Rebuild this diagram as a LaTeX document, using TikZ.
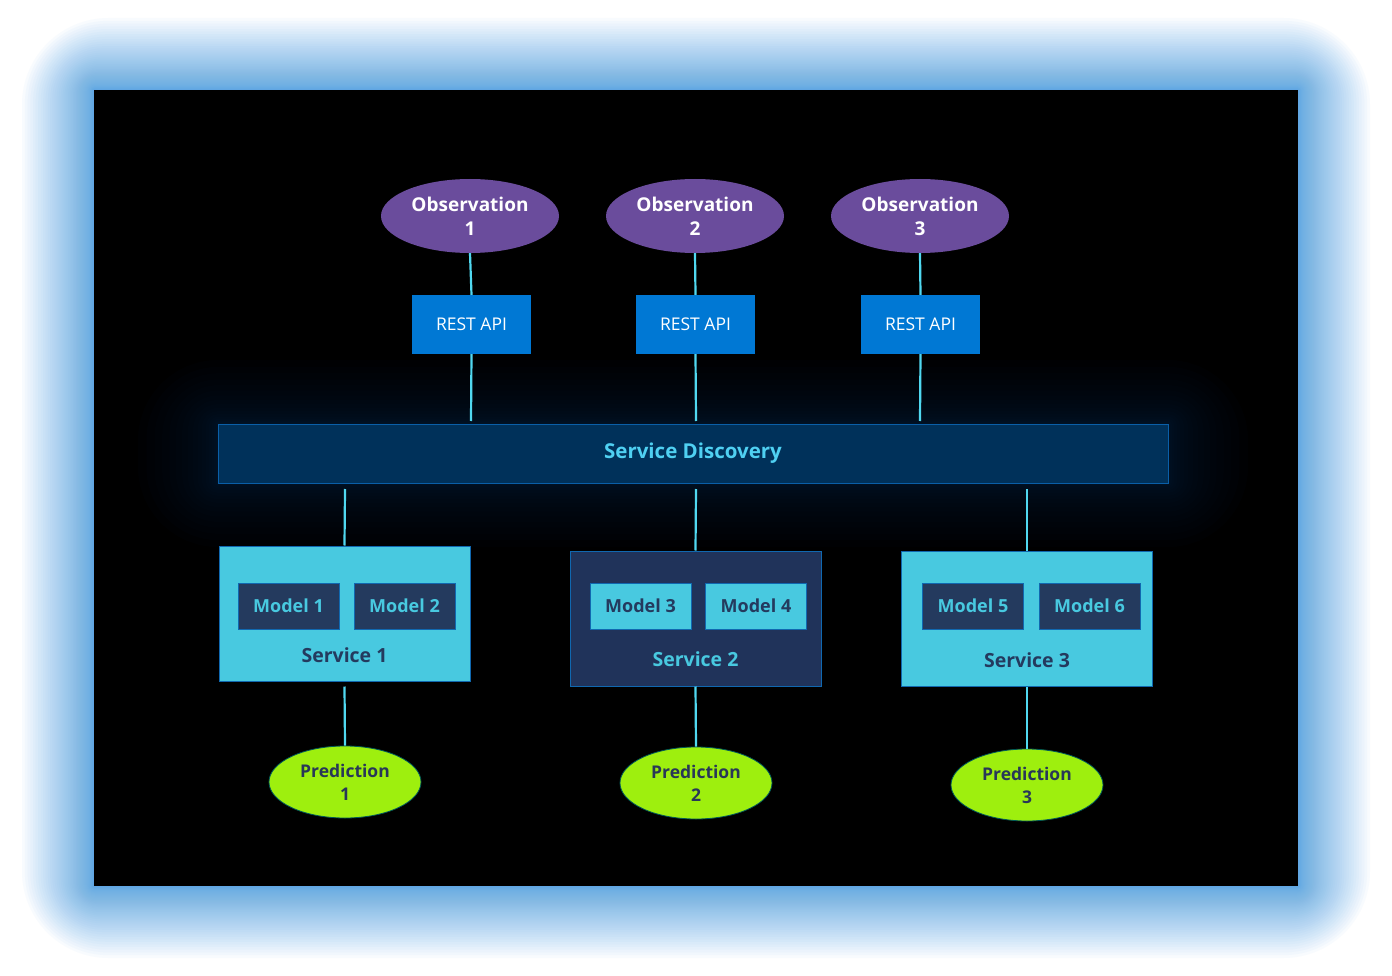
\documentclass[tikz,border=0pt]{standalone}
\usepackage{fontspec}
\setmainfont{Open Sans}
\usetikzlibrary{shapes.geometric}
\definecolor{glowblue}{HTML}{4A9FE3}
\definecolor{obsfill}{HTML}{6A4C9C}
\definecolor{restfill}{HTML}{0078D4}
\definecolor{cyanbox}{HTML}{48C9E0}
\definecolor{navybox}{HTML}{243A5E}
\definecolor{navyserv}{HTML}{20335A}
\definecolor{boxedge}{HTML}{1068B0}
\definecolor{sdfill}{HTML}{00315A}
\definecolor{sdedge}{HTML}{0A5FA8}
\definecolor{sdtext}{HTML}{4FD0F2}
\definecolor{wire}{HTML}{50D8F0}
\definecolor{predfill}{HTML}{9EEF0E}
\definecolor{preddark}{HTML}{283758}
\tikzset{
  obs/.style={ellipse, fill=obsfill, minimum width=178pt, minimum height=74pt, inner sep=0pt,
     text=white, font=\fontsize{19}{24}\selectfont\bfseries, align=center},
  rest/.style={rectangle, fill=restfill, minimum width=119pt, minimum height=59pt, inner sep=0pt,
     text=white, font=\fontsize{17.5}{20}\selectfont},
  servcyan/.style={rectangle, fill=cyanbox, draw=boxedge, line width=1pt, minimum width=251pt, minimum height=135pt, inner sep=0pt},
  servnavy/.style={rectangle, fill=navyserv, draw=boxedge, line width=1pt, minimum width=251pt, minimum height=135pt, inner sep=0pt},
  modnavy/.style={rectangle, fill=navybox, draw=boxedge, line width=1pt, minimum width=101pt, minimum height=46pt, inner sep=0pt,
     text=cyanbox, font=\fontsize{18}{20}\selectfont\bfseries},
  modcyan/.style={rectangle, fill=cyanbox, draw=boxedge, line width=1pt, minimum width=101pt, minimum height=46pt, inner sep=0pt,
     text=navybox, font=\fontsize{18}{20}\selectfont\bfseries},
  servlabel/.style={font=\fontsize{19.5}{22}\selectfont\bfseries, inner sep=0pt},
  pred/.style={ellipse, fill=predfill, draw=teal!70!black, line width=0.8pt, minimum width=152pt, minimum height=72pt, inner sep=0pt,
     text=preddark, font=\fontsize{17.5}{23}\selectfont\bfseries, align=center},
  wireline/.style={draw=wire, line width=2.2pt},
  sdbar/.style={rectangle, fill=sdfill, draw=sdedge, line width=1pt, minimum width=950pt, minimum height=59pt, inner sep=0pt,
     text=sdtext, font=\fontsize{20.5}{24}\selectfont\bfseries}
}
\begin{document}
\begin{tikzpicture}[x=1pt, y=-1pt]
\useasboundingbox (0,0) rectangle (1392,976);
\fill[white] (0,0) rectangle (1392,976);
% outer glow (quadratic spacing: dense near the panel)
\foreach \i in {1,...,50}{
  \pgfmathsetmacro{\d}{72*(\i/50)*(\i/50)}
  \fill[glowblue, opacity=0.034, rounded corners={1.2*\d pt}] ({94-\d},{90-\d}) rectangle ({1298+\d},{886+\d});
}
% panel
\fill[black] (94,90) rectangle (1298,886);
% service discovery glow
\foreach \i in {1,...,18}{
  \pgfmathsetmacro{\d}{80*(\i/18)*(\i/18)}
  \fill[sdfill, opacity=0.035, rounded corners={\d pt}] ({218-\d},{424-0.8*\d}) rectangle ({1168+\d},{483+0.8*\d});
}
% observations
\node[obs] (o1) at (470,216) {Observation\\1};
\node[obs] (o2) at (695,216) {Observation\\2};
\node[obs] (o3) at (920,216) {Observation\\3};
% rest api
\node[rest] (r1) at (471.5,324.5) {REST API};
\node[rest] (r2) at (695.5,324.5) {REST API};
\node[rest] (r3) at (920.5,324.5) {REST API};
% service discovery
\node[sdbar] (sd) at (693,453.5) {\raisebox{-2pt}{Service Discovery}};
% services
\node[servcyan] (s1) at (344.5,613.5) {};
\node[servnavy] (s2) at (695.5,618.5) {};
\node[servcyan] (s3) at (1027,619) {};
\node[modnavy] (m1) at (288.5,606) {Model 1};
\node[modnavy] (m2) at (404.5,606) {Model 2};
\node[modcyan] (m3) at (640.5,606) {Model 3};
\node[modcyan] (m4) at (756,606) {Model 4};
\node[modnavy] (m5) at (973,606) {Model 5};
\node[modnavy] (m6) at (1089.5,606) {Model 6};
\node[servlabel, text=navybox] (l1) at (344.5,655) {Service 1};
\node[servlabel, text=cyanbox] (l2) at (695.5,659) {Service 2};
\node[servlabel, text=navybox] (l3) at (1027,660) {Service 3};
% predictions
\node[pred] (p1) at (345,782) {Prediction\\1};
\node[pred] (p2) at (696,783) {Prediction\\2};
\node[pred] (p3) at (1027,785) {Prediction\\3};
% coordinates for gapped wire ends
\coordinate (c1) at (471,421);
\coordinate (c2) at (696,421);
\coordinate (c3) at (920,421);
\coordinate (d1) at (345,489);
\coordinate (d2) at (696,489);
\coordinate (d3) at (1027,489);
% wires
\draw[wireline] (o1.south) -- (r1.north);
\draw[wireline] (o2.south) -- (r2.north);
\draw[wireline] (o3.south) -- (r3.north);
\draw[wireline] (r1.south) -- (c1);
\draw[wireline] (r2.south) -- (c2);
\draw[wireline] (r3.south) -- (c3);
\draw[wireline] (d1) -- (s1.north);
\draw[wireline] (d2) -- (s2.north);
\draw[wireline] (d3) -- (s3.north);
\draw[wireline] ([yshift=-5pt]s1.south) -- (p1.north);
\draw[wireline] (s2.south) -- (p2.north);
\draw[wireline] (s3.south) -- (p3.north);
\end{tikzpicture}
\end{document}
